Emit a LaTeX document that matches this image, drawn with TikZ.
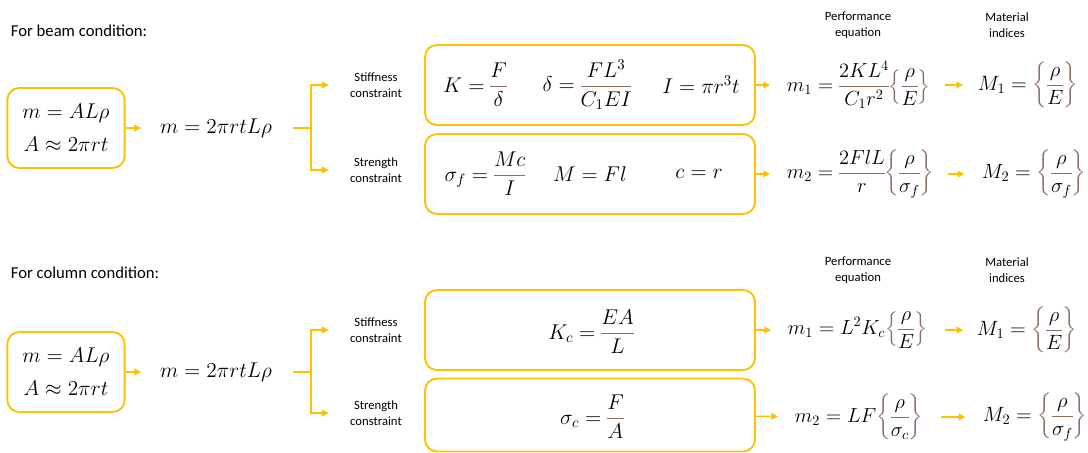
\RequirePackage{fix-cm}
\documentclass[tikz,border=0pt]{standalone}
\usepackage{amsmath}
\usepackage{fontspec}
\newfontfamily\labelfont{Carlito}
\usetikzlibrary{arrows.meta,positioning}
\definecolor{gold}{HTML}{FFC000}
\definecolor{barbrown}{HTML}{8C6E63}
\setlength{\nulldelimiterspace}{0pt}
\newcommand{\bfrac}[2]{{\color{barbrown}\dfrac{\color{black}#1}{\color{black}#2}}}
\newcommand{\bbrace}[1]{{\color{barbrown}\left\{\color{black}#1\color{barbrown}\right\}}}
\tikzset{
  flowarrow/.style={-{Triangle[length=5pt,width=5pt]}, line width=1pt, draw=gold},
  flowline/.style={line width=1pt, draw=gold},
  eqbox/.style={draw=gold, line width=1.4pt, rounded corners=9pt, minimum width=247.5pt, minimum height=60pt},
  massbox/.style={draw=gold, line width=1.4pt, rounded corners=9pt, minimum width=88pt, minimum height=60pt,
    align=center, font=\fontsize{16}{25}\selectfont},
  eqn/.style={font=\fontsize{16}{19}\selectfont, inner sep=2pt},
  perf/.style={font=\fontsize{15.3}{18}\selectfont, inner sep=2pt, anchor=west},
  index/.style={font=\fontsize{15.5}{18}\selectfont, inner sep=2pt, anchor=west},
  lbl/.style={font=\labelfont\fontsize{9.5}{12}\selectfont, align=center, inner sep=2pt},
  head/.style={font=\labelfont\fontsize{12.5}{15}\selectfont, inner sep=2pt, anchor=west}
}

\begin{document}
\begin{tikzpicture}[x=0.75pt, y=-0.75pt]
    \useasboundingbox (0,0) rectangle (1088,453);

    % beam condition
    \node[head] (beamhead) at (8,31) {For beam condition:};
    \node[lbl] (bperfhead) at (858,25) {Performance\\equation};
    \node[lbl] (bidxhead) at (1007,25) {Material\\indices};

    \node[massbox] (bmass) at (66,128) {$m = AL\rho$\\$A \approx 2\pi rt$};
    \node[eqn] (btotal) at (216,128) {$m = 2\pi rtL\rho$};
    \coordinate (bstart) at (293,128);
    \coordinate (bfork) at (311,128);
    \node[lbl] (bstiff) at (376,85) {Stiffness\\constraint};
    \node[lbl] (bstren) at (376,170) {Strength\\constraint};

    \node[eqbox] (bstiffbox) at (590,85) {};
    \node[eqbox] (bstrenbox) at (590,174) {};
    \node[eqn] (bkeq) at (475,85) {$K = \bfrac{F}{\delta}$};
    \node[eqn] (bdeq) at (587,85) {$\delta = \bfrac{FL^3}{C_1EI}$};
    \node[eqn] (bieq) at (701,85) {$I = \pi r^3 t$};
    \node[eqn] (bseq) at (485,174) {$\sigma_f = \bfrac{Mc}{I}$};
    \node[eqn] (bmeq) at (590,174) {$M = Fl$};
    \node[eqn] (bceq) at (699,174) {$c = r$};

    \node[perf] (bperf1) at (784,85) {$m_1 = \bfrac{2KL^4}{C_1r^2}\bbrace{\bfrac{\rho}{E}}$};
    \node[perf] (bperf2) at (784,174) {$m_2 = \bfrac{2FlL}{r}\bbrace{\bfrac{\rho}{\sigma_f}}$};
    \node[index] (bidx1) at (975,85) {$M_1 = \bbrace{\bfrac{\rho}{E}}$};
    \node[index] (bidx2) at (979,174) {$M_2 = \bbrace{\bfrac{\rho}{\sigma_f}}$};

    \draw[flowarrow, shorten >=12pt] (bmass) -- (btotal);
    \draw[flowline] (bstart) -- (bfork);
    \draw[flowarrow, shorten >=14pt] (bfork) |- (bstiff);
    \draw[flowarrow, shorten >=14pt] (bfork) |- (bstren);
    \draw[flowarrow, shorten >=10.5pt] (bstiffbox) -- (bperf1);
    \draw[flowarrow, shorten >=10.5pt] (bstrenbox) -- (bperf2);
    \draw[flowarrow, shorten <=9pt, shorten >=9pt] (bperf1) -- (bidx1);
    \draw[flowarrow, shorten <=8pt, shorten >=11pt] (bperf2) -- (bidx2);

    % column condition
    \node[head] (colhead) at (8,273) {For column condition:};
    \node[lbl] (cperfhead) at (858,270) {Performance\\equation};
    \node[lbl] (cidxhead) at (1007,270) {Material\\indices};

    \node[massbox] (cmass) at (66,372) {$m = AL\rho$\\$A \approx 2\pi rt$};
    \node[eqn] (ctotal) at (216,372) {$m = 2\pi rtL\rho$};
    \coordinate (cstart) at (293,372);
    \coordinate (cfork) at (311,372);
    \node[lbl] (cstiff) at (376,330) {Stiffness\\constraint};
    \node[lbl] (cstren) at (376,413) {Strength\\constraint};

    \node[eqbox] (cstiffbox) at (590,330) {};
    \node[eqbox, minimum height=54.75pt] (cstrenbox) at (590,415) {};
    \node[eqn] (ckeq) at (591,332) {$K_c = \bfrac{EA}{L}$};
    \node[eqn] (cseq) at (592,417) {$\sigma_c = \bfrac{F}{A}$};

    \node[perf] (cperf1) at (785,330) {$m_1 = L^2K_c\bbrace{\bfrac{\rho}{E}}$};
    \node[perf] (cperf2) at (792,417) {$m_2 = LF\bbrace{\bfrac{\rho}{\sigma_c}}$};
    \node[index] (cidx1) at (974,330) {$M_1 = \bbrace{\bfrac{\rho}{E}}$};
    \node[index] (cidx2) at (980,417) {$M_2 = \bbrace{\bfrac{\rho}{\sigma_f}}$};

    \draw[flowarrow, shorten >=12pt] (cmass) -- (ctotal);
    \draw[flowline] (cstart) -- (cfork);
    \draw[flowarrow, shorten >=14pt] (cfork) |- (cstiff);
    \draw[flowarrow, shorten >=14pt] (cfork) |- (cstren);
    \draw[flowarrow, shorten >=10.5pt] (cstiffbox) -- (cperf1);
    \draw[flowarrow, shorten >=10.5pt] (cstrenbox) -- (cperf2);
    \draw[flowarrow, shorten <=11pt, shorten >=8pt] (cperf1) -- (cidx1);
    \draw[flowarrow, shorten <=11pt, shorten >=11pt] (cperf2) -- (cidx2);
\end{tikzpicture}
\end{document}
